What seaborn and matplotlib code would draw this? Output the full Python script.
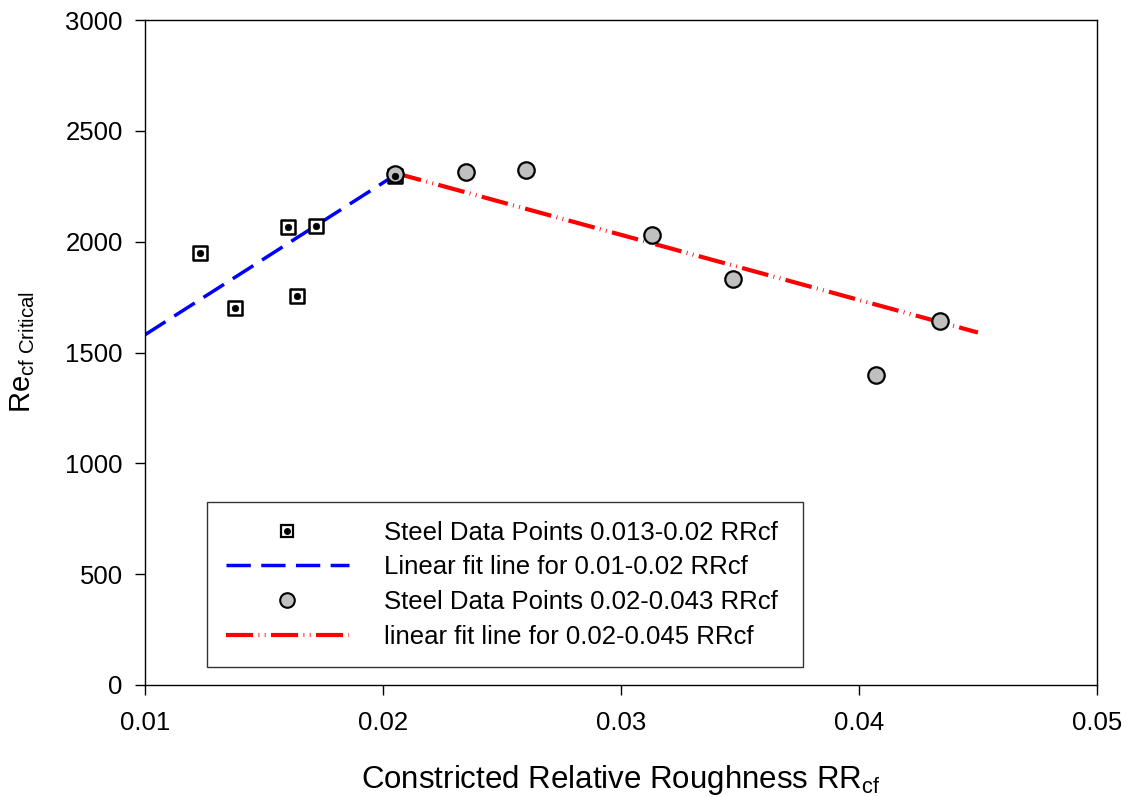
import matplotlib
matplotlib.use("Agg")
import matplotlib.pyplot as plt
import seaborn as sns
import pandas as pd
from matplotlib.lines import Line2D

# Data
sq_x = [0.0123, 0.0138, 0.0160, 0.0164, 0.0172, 0.0205]
sq_y = [1950, 1700, 2065, 1755, 2070, 2295]
ci_x = [0.0205, 0.0235, 0.0260, 0.0313, 0.0347, 0.0407, 0.0434]
ci_y = [2305, 2315, 2325, 2030, 1830, 1400, 1640]
fit1_x = [0.0100, 0.0205]
fit1_y = [1580, 2300]
fit2_x = [0.0205, 0.0450]
fit2_y = [2310, 1590]
labels = ["Steel Data Points 0.013-0.02 RRcf",
          "Linear fit line for 0.01-0.02 RRcf",
          "Steel Data Points 0.02-0.043 RRcf",
          "linear fit line for 0.02-0.045 RRcf"]
xticks = [0.01, 0.02, 0.03, 0.04, 0.05]
yticks = [0, 500, 1000, 1500, 2000, 2500, 3000]

sns.set_style("ticks")
plt.rcParams['font.family'] = ['Liberation Sans', 'DejaVu Sans']
plt.rcParams['mathtext.fontset'] = 'custom'
plt.rcParams['mathtext.rm'] = 'Liberation Sans'
plt.rcParams['mathtext.it'] = 'Liberation Sans'
plt.rcParams['text.color'] = 'black'
plt.rcParams['axes.labelcolor'] = 'black'

fig = plt.figure(figsize=(11.27, 7.97), dpi=100)
ax = fig.add_axes([145/1127, 1 - 685/797, (1097-145)/1127, (685-20)/797])

df_sq = pd.DataFrame({"x": sq_x, "y": sq_y})
df_ci = pd.DataFrame({"x": ci_x, "y": ci_y})
df_f1 = pd.DataFrame({"x": fit1_x, "y": fit1_y})
df_f2 = pd.DataFrame({"x": fit2_x, "y": fit2_y})

blue_dash = (7, 3)
red_dash = (6.5, 1.3, 0.2, 1.3, 0.2, 1.3)

sns.lineplot(data=df_f1, x="x", y="y", ax=ax, color="#0000ff", lw=2.5, zorder=2)
ax.lines[-1].set_dashes(blue_dash)
sns.lineplot(data=df_f2, x="x", y="y", ax=ax, color="#ff0000", lw=3, zorder=2)
ax.lines[-1].set_dashes(red_dash)

sns.scatterplot(data=df_sq, x="x", y="y", ax=ax, marker="s", s=110,
                facecolor="white", edgecolor="black", linewidth=1.8, zorder=3)
sns.scatterplot(data=df_sq, x="x", y="y", ax=ax, marker="o", s=22,
                color="black", edgecolor="black", linewidth=0.5, zorder=4)
sns.scatterplot(data=df_ci, x="x", y="y", ax=ax, marker="o", s=140,
                color="#c0c0c0", edgecolor="black", linewidth=1.6, zorder=3)

ax.set_xlim(0.01, 0.05)
ax.set_ylim(0, 3000)
ax.set_xticks(xticks)
ax.set_xticklabels([f"{v:.2f}" for v in xticks])
ax.set_yticks(yticks)
ax.tick_params(direction="out", length=7, width=1, labelsize=18.5, colors="black",
               labelcolor="black")
ax.tick_params(axis="x", pad=12)
ax.tick_params(axis="y", pad=9)
for s in ax.spines.values():
    s.set_visible(True)
    s.set_color("black")
    s.set_linewidth(1)

ax.set_xlabel(r"Constricted Relative Roughness RR$_{\mathrm{cf}}$", fontsize=22.5, labelpad=20)
ax.set_ylabel(r"Re$_{\mathrm{cf\ Critical}}$", fontsize=21, labelpad=20)

h1 = (Line2D([], [], marker="s", ls="none", markersize=9, markerfacecolor="white",
             markeredgecolor="black", markeredgewidth=1.6),
      Line2D([], [], marker="o", ls="none", markersize=4, color="black"))
h2 = Line2D([], [], color="#0000ff", lw=2.5, dashes=blue_dash)
h3 = Line2D([], [], marker="o", ls="none", markersize=10.5, markerfacecolor="#c0c0c0",
            markeredgecolor="black", markeredgewidth=1.5)
h4 = Line2D([], [], color="#ff0000", lw=3, dashes=red_dash)
leg = ax.legend([h1, h2, h3, h4], labels, loc="lower left",
                bbox_to_anchor=((207-145)/952, (685-667)/665, (803-207)/952, (667-502)/665),
                mode="expand", fontsize=18.5, frameon=True, fancybox=False,
                handlelength=4.8, handletextpad=1.35, borderpad=0.72, labelspacing=0.41,
                borderaxespad=0)
leg.get_frame().set_edgecolor("black")
leg.get_frame().set_linewidth(1)

fig.savefig("out.png", dpi=100)
